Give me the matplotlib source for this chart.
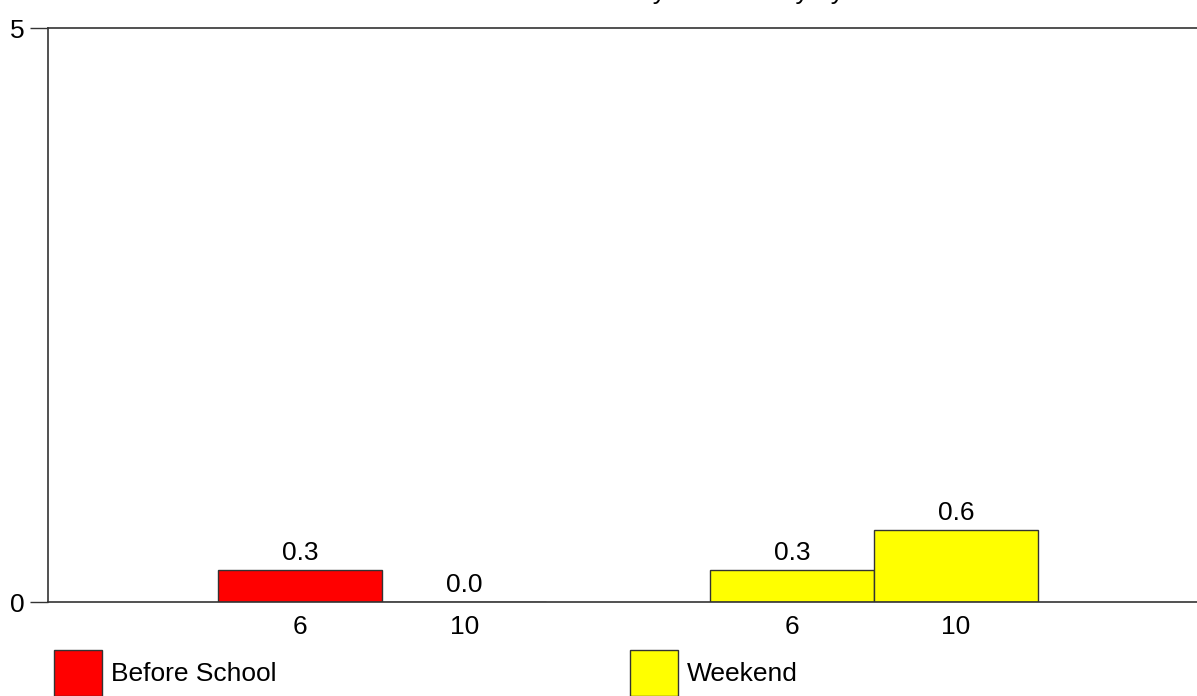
import matplotlib
matplotlib.use('Agg')
import matplotlib.pyplot as plt
from matplotlib.patches import Patch

# --- Data ---
grades = ['6', '10']
before_school = [0.28, 0.0]
weekend = [0.28, 0.63]
series_names = ['Before School', 'Weekend']
series_colors = ['#ff0000', '#ffff00']
title_text = 'Mean Hours of Physical Activity by Students'

plt.rcParams['font.family'] = ['Liberation Sans', 'DejaVu Sans']

W, H = 1197, 696
FS = 19
fig = plt.figure(figsize=(W / 100, H / 100), dpi=100)
ax = fig.add_axes([48 / W, 94 / H, (W - 48) / W, 574 / H])

# bar slots: each group takes two unit-wide slots, groups separated by two empty slots
group_starts = [1, 4]
edge = '#333333'
xticks, xlabels = [], []
for gi, vals in enumerate([before_school, weekend]):
    for j, v in enumerate(vals):
        x = group_starts[gi] + j + 0.5
        ax.bar(x, v, width=1.0, color=series_colors[gi], edgecolor=edge, linewidth=1)
        ax.text(x, v + 0.045, f'{v:.1f}', ha='center', va='bottom', fontsize=FS)
        xticks.append(x)
        xlabels.append(grades[j])

ax.set_xlim(-0.04, 6.97)
ax.set_ylim(0, 5)
ax.set_yticks([0, 5])
ax.set_xticks(xticks)
ax.set_xticklabels(xlabels, fontsize=FS)
ax.tick_params(axis='x', length=0, pad=9)
ax.tick_params(axis='y', length=13, width=1, color='#333333', pad=4, labelsize=FS)
for s in ['left', 'bottom', 'top']:
    ax.spines[s].set_color('#333333')
    ax.spines[s].set_linewidth(1.2)
ax.spines['right'].set_visible(False)

# title sits above the canvas, only its bottom edge shows
fig.text(698 / W, 1 + 1 / H, title_text, ha='center', va='baseline', fontsize=FS)

# legends
for name, color, xpx in zip(series_names, series_colors, [54, 630]):
    fig.legend(handles=[Patch(facecolor=color, edgecolor=edge, linewidth=1)],
               labels=[name], loc='upper left',
               bbox_to_anchor=(xpx / W, 1 - 650 / H), frameon=False,
               borderpad=0, borderaxespad=0, handlelength=1.8, handleheight=2.3,
               handletextpad=0.35, fontsize=FS)

fig.savefig('out.png', dpi=100)
